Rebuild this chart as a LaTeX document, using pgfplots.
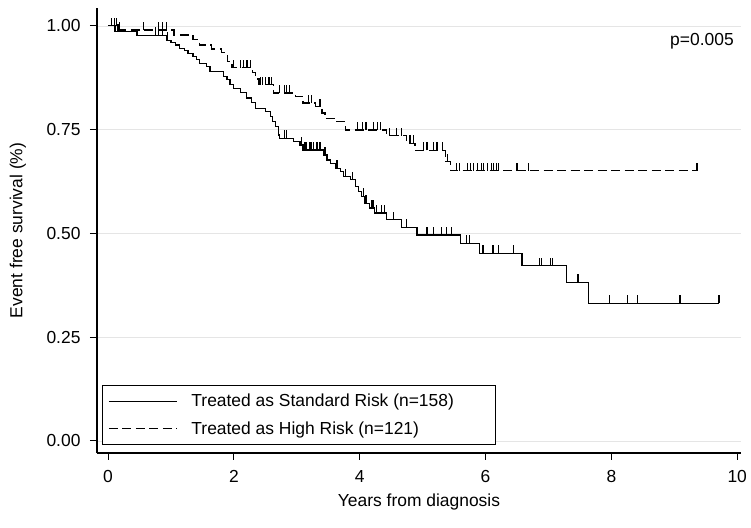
\documentclass[border=0pt]{standalone}
\usepackage{fontspec}
\setmainfont{Liberation Sans}
\usepackage{pgfplots}
\pgfplotsset{compat=1.18}
\pgfdeclareplotmark{cens}{\pgfpathmoveto{\pgfpointorigin}\pgfpathlineto{\pgfpoint{0pt}{8bp}}\pgfusepathqstroke}
\begin{document}
\begin{tikzpicture}
\begin{axis}[
  name=ax,
  scale only axis, width=644bp, height=445bp,
  xmin=-0.175, xmax=10.06, ymin=-0.029, ymax=1.043,
  axis x line*=bottom, axis y line*=left,
  axis line style={line width=1.1pt, -},
  xtick={0,2,4,6,8,10}, ytick={0,0.25,0.5,0.75,1},
  tick align=outside, major tick length=7bp,
  tick style={black, line width=1pt},
  /pgf/number format/assume math mode=true,
  y tick label style={/pgf/number format/fixed, /pgf/number format/fixed zerofill, /pgf/number format/precision=2, xshift=-6bp},
  x tick label style={yshift=-7bp},
  ymajorgrids, grid style={black!10, line width=0.6pt},
  font=\fontsize{17.5}{21}\selectfont,
  xlabel={Years from diagnosis}, ylabel={Event free survival (\%)},
  xlabel style={at={(axis description cs:0.5,-0.111)}, anchor=center},
  ylabel style={at={(axis description cs:-0.123,0.5)}, anchor=center},
  legend style={at={(rel axis cs:0.0074,0.018)}, anchor=south west, draw=black, line width=1pt, row sep=9bp, inner xsep=6bp, inner ysep=7bp},
  legend cell align=left,
  legend image code/.code={\draw[#1] (0bp,0bp) -- (68bp,0bp);},
]
\addplot[const plot, black, line width=1.2pt] coordinates {
(0,1.0) (0.11,0.986) (0.46,0.977) (0.93,0.965) (1.00,0.960) (1.07,0.954) (1.14,0.946) (1.22,0.940) (1.27,0.934) (1.35,0.926) (1.41,0.918) (1.46,0.910) (1.57,0.902) (1.62,0.890) (1.83,0.878) (1.89,0.871) (1.94,0.858) (1.99,0.850) (2.10,0.839) (2.20,0.826) (2.28,0.815) (2.34,0.800) (2.50,0.793) (2.58,0.781) (2.62,0.770) (2.66,0.757) (2.71,0.737) (2.73,0.729) (2.95,0.721) (3.05,0.713) (3.10,0.701) (3.42,0.689) (3.48,0.677) (3.53,0.669) (3.61,0.657) (3.69,0.649) (3.74,0.637) (3.85,0.629) (3.93,0.613) (3.98,0.601) (4.03,0.589) (4.08,0.573) (4.16,0.561) (4.24,0.549) (4.43,0.533) (4.67,0.515) (4.91,0.496) (5.60,0.476) (5.91,0.452) (6.58,0.422) (7.29,0.382) (7.63,0.332) (9.71,0.332)};
\addlegendentry{\hspace*{12bp}Treated as Standard Risk (n=158)\hspace*{34bp}}
\addplot[const plot, black, line width=1.2pt, dash pattern=on 9bp off 4.5bp] coordinates {
(0,1.0) (0.15,0.990) (1.05,0.978) (1.35,0.968) (1.45,0.954) (1.65,0.944) (1.80,0.935) (1.90,0.914) (1.97,0.899) (2.30,0.887) (2.35,0.872) (2.40,0.858) (2.63,0.838) (2.98,0.829) (3.10,0.814) (3.30,0.805) (3.40,0.790) (3.45,0.777) (3.60,0.769) (3.77,0.749) (4.43,0.735) (4.75,0.717) (4.88,0.700) (5.36,0.673) (5.44,0.651) (9.36,0.651)};
\addlegendentry{\hspace*{12bp}Treated as High Risk (n=121)}
\addplot[only marks, mark=cens, black, line width=1.2pt, forget plot] coordinates {
(0.15,0.986) (0.17,0.986) (0.75,0.977) (0.80,0.977) (0.86,0.977) (0.95,0.965) (2.81,0.729) (2.84,0.729) (3.07,0.713) (3.13,0.701) (3.16,0.701) (3.21,0.701) (3.24,0.701) (3.26,0.701) (3.32,0.701) (3.37,0.701) (3.45,0.689) (3.64,0.657) (3.77,0.637) (3.88,0.629) (4.06,0.589) (4.10,0.573) (4.19,0.561) (4.21,0.561) (4.27,0.549) (4.35,0.549) (4.40,0.549) (4.54,0.533) (4.74,0.515) (5.07,0.496) (5.17,0.496) (5.30,0.496) (5.38,0.496) (5.46,0.496) (5.70,0.476) (5.74,0.476) (5.96,0.452) (6.12,0.452) (6.21,0.452) (6.44,0.452) (6.86,0.422) (6.89,0.422) (7.03,0.422) (7.07,0.422) (7.47,0.382) (7.97,0.332) (8.26,0.332) (8.42,0.332) (9.09,0.332) (9.71,0.332)};
\addplot[only marks, mark=cens, black, line width=1.2pt, forget plot] coordinates {
(0.05,1.0) (0.10,1.0) (0.13,1.0) (0.18,0.99) (0.56,0.99) (0.80,0.99) (0.86,0.99) (0.93,0.99) (1.99,0.899) (2.10,0.899) (2.15,0.899) (2.21,0.899) (2.27,0.899) (2.42,0.858) (2.46,0.858) (2.50,0.858) (2.56,0.858) (2.60,0.858) (2.73,0.838) (2.81,0.838) (2.84,0.838) (2.89,0.838) (3.18,0.814) (3.24,0.814) (3.37,0.805) (3.97,0.749) (4.05,0.749) (4.10,0.749) (4.22,0.749) (4.28,0.749) (4.33,0.749) (4.48,0.735) (4.58,0.735) (4.67,0.735) (4.80,0.717) (4.85,0.717) (5.01,0.700) (5.07,0.700) (5.17,0.700) (5.23,0.700) (5.31,0.700) (5.40,0.673) (5.54,0.651) (5.58,0.651) (5.71,0.651) (5.76,0.651) (5.81,0.651) (5.87,0.651) (5.93,0.651) (5.97,0.651) (6.03,0.651) (6.09,0.651) (6.13,0.651) (6.17,0.651) (6.20,0.651) (6.50,0.651) (6.68,0.651) (9.36,0.651)};
\node[anchor=east, font=\fontsize{17.5}{21}\selectfont] at (axis cs:10.0,0.962) {p=0.005};
\end{axis}
\pgfresetboundingbox
\path ([xshift=-97bp,yshift=-75bp]ax.south west) rectangle ([xshift=10bp,yshift=8bp]ax.north east);
\end{tikzpicture}
\end{document}
